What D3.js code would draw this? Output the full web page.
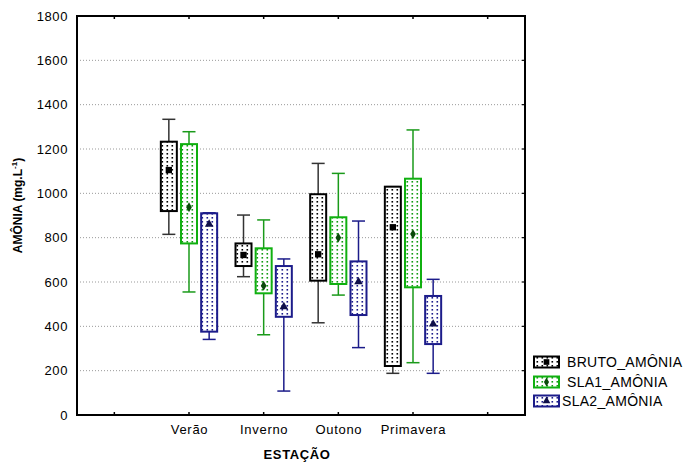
<!DOCTYPE html>
<html><head><meta charset="utf-8">
<script src="https://cdn.jsdelivr.net/npm/d3@7"></script>
<style>body{margin:0;background:#fff;} svg{display:block;font-family:Arial,"Liberation Sans",sans-serif;}</style>
</head><body><svg id="c" width="684" height="464"></svg>
<script>
const categories = ["Verão","Inverno","Outono","Primavera"];
const seriesNames = ["BRUTO_AMÔNIA","SLA1_AMÔNIA","SLA2_AMÔNIA"];
const yTicks = [0,200,400,600,800,1000,1200,1400,1600,1800];

const brutoMin = [815, 624, 416, 188];
const brutoQ1  = [920, 672, 606, 221];
const brutoMid = [1105, 722, 725, 847];
const brutoQ3  = [1233, 774, 996, 1030];
const brutoMax = [1334, 902, 1135, 1030];

const sla1Min = [555, 362, 541, 236];
const sla1Q1  = [774, 549, 591, 576];
const sla1Mid = [937, 583, 800, 816];
const sla1Q3  = [1222, 752, 892, 1066];
const sla1Max = [1278, 880, 1090, 1286];

const sla2Min = [341, 108, 304, 188];
const sla2Q1  = [376, 443, 451, 320];
const sla2Mid = [861, 488, 601, 410];
const sla2Q3  = [910, 672, 693, 537];
const sla2Max = [912, 704, 875, 612];

const seriesData = [
  {name: seriesNames[0], min: brutoMin, q1: brutoQ1, mid: brutoMid, q3: brutoQ3, max: brutoMax, stroke:"#000", whisk:"#333", dot:"#000", mark:"#000", sym:d3.symbolSquare, symSize:40, off:-0.27},
  {name: seriesNames[1], min: sla1Min, q1: sla1Q1, mid: sla1Mid, q3: sla1Q3, max: sla1Max, stroke:"#10b010", whisk:"#1a9a1a", dot:"#129a12", mark:"#0a4a0a", sym:d3.symbolDiamond, symSize:28, off:0},
  {name: seriesNames[2], min: sla2Min, q1: sla2Q1, mid: sla2Mid, q3: sla2Q3, max: sla2Max, stroke:"#1c1c8a", whisk:"#1c1c8a", dot:"#1c1c8a", mark:"#10104a", sym:d3.symbolTriangle, symSize:32, off:0.27}
];

const svg = d3.select("#c");
const L = 77, R = 525, T = 16, B = 415;
const x = d3.scaleLinear().domain([-1.5, 4.5]).range([L, R]);
const y = d3.scaleLinear().domain([0, 1800]).range([B, T]);

const defs = svg.append("defs");
seriesData.forEach((s, i) => {
  const p = defs.append("pattern").attr("id", "pat" + i).attr("patternUnits", "userSpaceOnUse")
    .attr("width", 5).attr("height", 4);
  p.append("rect").attr("width", 5).attr("height", 4).attr("fill", "#fff");
  p.append("rect").attr("x", 1.5).attr("y", 1).attr("width", 1.6).attr("height", 1.6).attr("fill", s.dot);
});

// grid
svg.append("g").selectAll("line").data(yTicks.filter(v => v > 0 && v < 1800)).join("line")
  .attr("x1", L).attr("x2", R).attr("y1", d => y(d)).attr("y2", d => y(d))
  .attr("stroke", "#999").attr("stroke-width", 1).attr("stroke-dasharray", "1,2");

// y axis
const ya = svg.append("g").attr("transform", `translate(${L},0)`)
  .call(d3.axisLeft(y).tickValues(yTicks).tickSize(0).tickPadding(9).tickFormat(d3.format("d")));
ya.select(".domain").remove();
ya.selectAll("text").attr("font-size", 13).attr("letter-spacing", 0.6).attr("fill", "#000");

// x axis
const xTickVals = [-1, 0, 1, 2, 3, 4];
const xa = svg.append("g").attr("transform", `translate(0,${B})`)
  .call(d3.axisBottom(x).tickValues(xTickVals).tickSize(0).tickPadding(10)
    .tickFormat(d => (d >= 0 && d < categories.length) ? categories[d] : ""));
xa.select(".domain").remove();
xa.selectAll("text").attr("font-size", 13).attr("letter-spacing", 0.7).attr("fill", "#000");

// inward ticks
svg.append("g").selectAll("line").data(xTickVals).join("line")
  .attr("x1", d => x(d)).attr("x2", d => x(d)).attr("y1", B).attr("y2", B - 3)
  .attr("stroke", "#000").attr("stroke-width", 1.5);
svg.append("g").selectAll("line").data(xTickVals).join("line")
  .attr("x1", d => x(d)).attr("x2", d => x(d)).attr("y1", T).attr("y2", T + 3)
  .attr("stroke", "#000").attr("stroke-width", 1.5);
svg.append("g").selectAll("line").data(yTicks).join("line")
  .attr("x1", R).attr("x2", R - 3).attr("y1", d => y(d)).attr("y2", d => y(d))
  .attr("stroke", "#000").attr("stroke-width", 1.2);

// boxes
const bw = 16, cw = 13;
seriesData.forEach((s, i) => {
  const g = svg.append("g");
  categories.forEach((c, k) => {
    const cx = x(k + s.off);
    g.append("line").attr("x1", cx).attr("x2", cx).attr("y1", y(s.max[k])).attr("y2", y(s.min[k]))
      .attr("stroke", s.whisk).attr("stroke-width", 1.5);
    g.append("line").attr("x1", cx - cw/2).attr("x2", cx + cw/2).attr("y1", y(s.max[k])).attr("y2", y(s.max[k]))
      .attr("stroke", s.whisk).attr("stroke-width", 1.5);
    g.append("line").attr("x1", cx - cw/2).attr("x2", cx + cw/2).attr("y1", y(s.min[k])).attr("y2", y(s.min[k]))
      .attr("stroke", s.whisk).attr("stroke-width", 1.5);
    g.append("rect").attr("x", cx - bw/2).attr("y", y(s.q3[k])).attr("width", bw)
      .attr("height", y(s.q1[k]) - y(s.q3[k])).attr("fill", `url(#pat${i})`)
      .attr("stroke", s.stroke).attr("stroke-width", 2);
    g.append("path").attr("d", d3.symbol().type(s.sym).size(s.symSize)())
      .attr("transform", `translate(${cx},${y(s.mid[k])})`).attr("fill", s.mark);
  });
});

// frame
svg.append("rect").attr("x", L).attr("y", T).attr("width", R - L).attr("height", B - T)
  .attr("fill", "none").attr("stroke", "#000").attr("stroke-width", 2);

// axis titles
svg.append("text").attr("transform", `translate(22,${(T + B) / 2 - 10}) rotate(-90)`)
  .attr("text-anchor", "middle").attr("font-size", 12).attr("font-weight", "bold")
  .html('AMÔNIA (mg.L<tspan dy="-5" font-size="8">-1</tspan><tspan dy="5">)</tspan>');
svg.append("text").attr("x", 297).attr("y", 459).attr("text-anchor", "middle")
  .attr("font-size", 13).attr("letter-spacing", 0.6).attr("font-weight", "bold").text("ESTAÇÃO");

// legend
const lg = svg.append("g");
const rowsY = [362, 382, 401];
seriesData.forEach((s, i) => {
  const yy = rowsY[i];
  lg.append("rect").attr("x", 534).attr("y", yy - 5.5).attr("width", 25).attr("height", 11)
    .attr("fill", `url(#pat${i})`).attr("stroke", s.stroke).attr("stroke-width", 2);
  lg.append("path").attr("d", d3.symbol().type(s.sym).size(s.symSize * 0.8)())
    .attr("transform", `translate(546.5,${yy})`).attr("fill", s.mark);
  lg.append("text").attr("x", i === 2 ? 562 : 567).attr("y", yy + 5).attr("font-size", 14)
    .attr("letter-spacing", 0.3).text(s.name);
});
</script></body></html>
